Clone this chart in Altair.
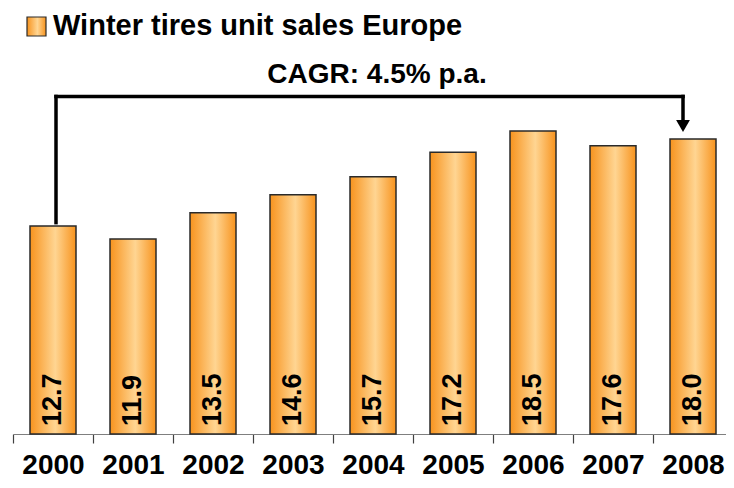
import altair as alt
import pandas as pd

years = ["2000", "2001", "2002", "2003", "2004", "2005", "2006", "2007", "2008"]
sales = [12.7, 11.9, 13.5, 14.6, 15.7, 17.2, 18.5, 17.6, 18.0]
series_name = "Winter tires unit sales Europe"
cagr_text = "CAGR: 4.5% p.a."

# bracket levels (value units)
bracket_start = 12.9
bracket_top = 20.6
arrow_base = 19.2
arrow_mid = 18.8
cagr_y = 21.4

df = pd.DataFrame({"year": years, "sales": sales})
df["label"] = [f"{v:.1f}" for v in sales]
df["zero"] = 0.0

FONT = "Liberation Sans"
grad = alt.Gradient(
    gradient="linear",
    stops=[
        alt.GradientStop(color="#F7931E", offset=0),
        alt.GradientStop(color="#FFD592", offset=0.55),
        alt.GradientStop(color="#F7931E", offset=1),
    ],
    x1=0, x2=1, y1=0, y2=0,
)

xscale = alt.Scale(domain=years, range=[0, 720], paddingInner=0, paddingOuter=0)
yscale = alt.Scale(domain=[0, 26.0], nice=False, zero=True)

x = alt.X("year:N", scale=xscale, sort=years,
          axis=alt.Axis(title=None, labelAngle=0, tickBand="extent", domainColor="#7f7f7f",
                        tickColor="#404040", tickSize=9, domainWidth=1.2, tickWidth=1.2,
                        labelFont=FONT, labelFontSize=28, labelFontWeight="bold",
                        labelColor="black", labelPadding=8, grid=False))
y = alt.Y("sales:Q", scale=yscale, axis=None)

base = alt.Chart(df)
bars = base.mark_bar(fill=grad, stroke="#2a2a2a", strokeWidth=1.5, width=46).encode(x=x, y=y)
labels = base.mark_text(angle=270, align="left", baseline="middle", dx=8,
                        font=FONT, fontSize=27, fontWeight="bold", color="black").encode(
    x=alt.X("year:N", scale=xscale, sort=years),
    y=alt.Y("zero:Q", scale=yscale),
    text="label:N",
)

seg = pd.DataFrame({
    "xa": [years[0], years[-1]],
    "ya": [bracket_start, bracket_top],
    "yb": [bracket_top, arrow_base],
    "side": ["left", "right"],
})
left_v = alt.Chart(seg[seg.side == "left"]).mark_rule(
    color="black", strokeWidth=3.5, xOffset=3, strokeCap="square").encode(
    x=alt.X("xa:N", scale=xscale), y=alt.Y("ya:Q", scale=yscale), y2="yb:Q")
right_v = alt.Chart(seg[seg.side == "right"]).mark_rule(
    color="black", strokeWidth=3.5, xOffset=-10, strokeCap="square").encode(
    x=alt.X("xa:N", scale=xscale), y=alt.Y("ya:Q", scale=yscale), y2="yb:Q")
hz = pd.DataFrame({"xa": [years[0]], "xb": [years[-1]], "yv": [bracket_top]})
horiz = alt.Chart(hz).mark_rule(color="black", strokeWidth=3.5, xOffset=3, x2Offset=-10,
                                strokeCap="square").encode(
    x=alt.X("xa:N", scale=xscale), x2="xb:N", y=alt.Y("yv:Q", scale=yscale))
arr = pd.DataFrame({"xa": [years[-1]], "yv": [arrow_mid]})
arrow = alt.Chart(arr).mark_point(shape="triangle-down", filled=True, color="black",
                                  size=190, opacity=1, xOffset=-10).encode(
    x=alt.X("xa:N", scale=xscale), y=alt.Y("yv:Q", scale=yscale))

ct = pd.DataFrame({"xa": [years[4]], "yv": [cagr_y], "t": [cagr_text]})
cagr = alt.Chart(ct).mark_text(font=FONT, fontSize=28, fontWeight="bold", color="black",
                               baseline="alphabetic", dx=4).encode(
    x=alt.X("xa:N", scale=xscale), y=alt.Y("yv:Q", scale=yscale), text="t:N")

lg = pd.DataFrame({"t": [series_name]})
leg_sq = alt.Chart(lg).mark_rect(fill=grad, stroke="#2a2a2a", strokeWidth=1.2).encode(
    x=alt.value(14), x2=alt.value(33), y=alt.value(9), y2=alt.value(28))
leg_tx = alt.Chart(lg).mark_text(font=FONT, fontSize=29, fontWeight="bold", color="black",
                                 align="left", baseline="alphabetic").encode(
    x=alt.value(40), y=alt.value(27), text="t:N")

chart = alt.layer(bars, labels, left_v, right_v, horiz, arrow, cagr, leg_sq, leg_tx).properties(
    width=713, height=426,
    autosize=alt.AutoSizeParams(type="none"),
    padding={"left": 5, "top": 0, "right": 0, "bottom": 46},
).configure_view(stroke=None)

chart.save("out.html", embed_options={"renderer": "svg", "actions": False})
